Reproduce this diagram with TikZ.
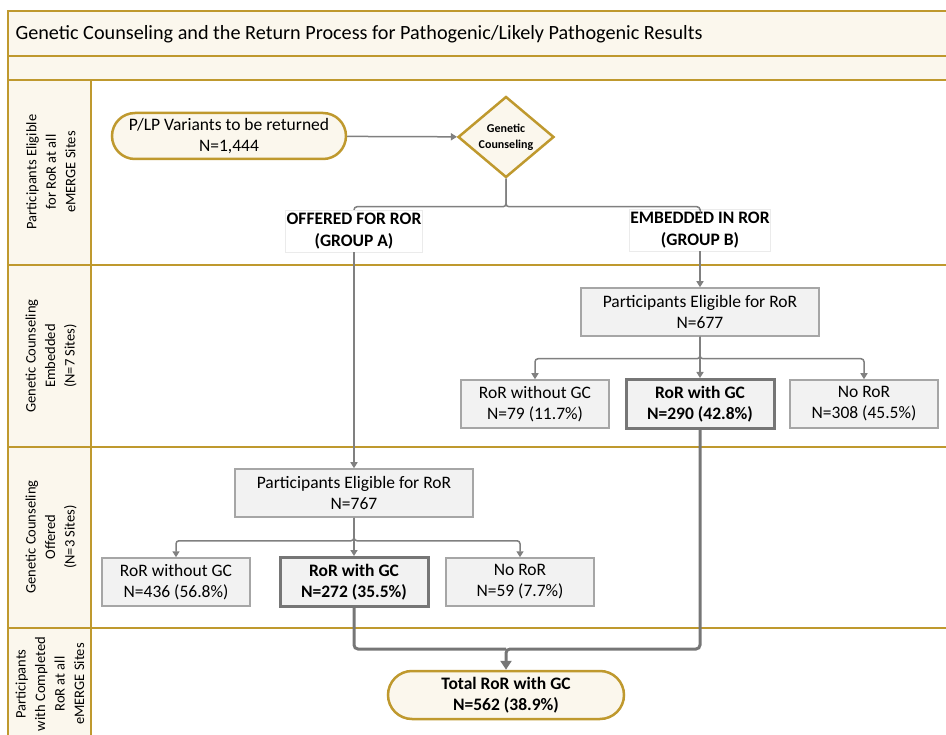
\documentclass[tikz,border=0pt]{standalone}
\usepackage{fontspec}
\setmainfont{Carlito}
\usetikzlibrary{shapes.geometric,shapes.misc,arrows.meta}
\definecolor{gold}{RGB}{191,153,46}
\definecolor{cream}{RGB}{251,247,237}
\definecolor{boxfill}{RGB}{242,242,242}
\definecolor{boxline}{RGB}{166,166,166}
\definecolor{darkline}{RGB}{118,118,118}
\definecolor{arrowgray}{RGB}{128,128,128}
\begin{document}
\begin{tikzpicture}[x=1pt, y=-1pt,
  lane/.style={draw=gold, line width=1.5pt},
  lanetext/.style={rotate=90, align=center, font=\fontsize{14.5}{19.5}\selectfont},
  terminal/.style={rounded rectangle, draw=gold, fill=cream, line width=2.5pt, align=center, inner sep=1pt, font=\fontsize{17.5}{21}\selectfont},
  decision/.style={diamond, draw=gold, fill=cream, line width=2.5pt, minimum width=96pt, minimum height=71pt, inner sep=0pt, align=center, font=\bfseries\fontsize{12}{16}\selectfont},
  group/.style={draw=black!8, fill=white, align=center, inner sep=1pt, font=\bfseries\fontsize{17.5}{22}\selectfont, minimum width=136pt, minimum height=42pt},
  result/.style={draw=boxline, fill=boxfill, line width=1.5pt, align=center, inner sep=1pt, font=\fontsize{17.5}{21}\selectfont, minimum width=148pt, minimum height=48pt},
  chosen/.style={result, draw=darkline, line width=3pt, font=\bfseries\fontsize{17.5}{21}\selectfont, minimum width=148pt, minimum height=49pt},
  link/.style={draw=arrowgray, line width=1.5pt, rounded corners=3pt},
  tip/.style={-{Triangle[width=7pt,length=6pt]}},
  merge/.style={draw=darkline, line width=3pt, rounded corners=4pt}]
  \useasboundingbox (0,0) rectangle (946,735);
  \fill[cream] (8,11) rectangle (960,80);
  \fill[cream] (8,80) rectangle (91,760);
  \draw[lane] (960,11) -- (8,11) -- (8,760);
  \draw[lane] (91,80) -- (91,760);
  \foreach \y in {56,80,265,447,628}
    \draw[lane] (8,\y) -- (960,\y);
  \node[anchor=west, font=\fontsize{20.2}{24}\selectfont] (title) at (12,34) {Genetic Counseling and the Return Process for Pathogenic/Likely Pathogenic Results};
  \node[lanetext] (lane1) at (51,172) {Participants Eligible\\for RoR at all\\eMERGE Sites};
  \node[lanetext] (lane2) at (51,356) {Genetic Counseling\\Embedded\\(N=7 Sites)};
  \node[lanetext] (lane3) at (51,537) {Genetic Counseling\\Offered\\(N=3 Sites)};
  \node[lanetext] (lane4) at (50,684) {Participants\\with Completed\\RoR at all\\eMERGE Sites};

  \node[terminal, minimum width=236pt, minimum height=46pt] (plp) at (229,136) {P/LP Variants to be returned\\N=1,444};
  \node[decision] (gc) at (506,137) {Genetic\\Counseling};
  \node[group] (grpA) at (354,231) {OFFERED FOR ROR\\(GROUP A)};
  \node[group] (grpB) at (700,230) {EMBEDDED IN ROR\\(GROUP B)};

  \node[result, minimum width=238pt] (elB) at (700,312) {Participants Eligible for RoR\\N=677};
  \node[result] (noGCB) at (535,404) {RoR without GC\\N=79 (11.7\%)};
  \node[chosen] (GCB) at (700,404) {RoR with GC\\N=290 (42.8\%)};
  \node[result] (noRoRB) at (864,404) {No RoR\\N=308 (45.5\%)};

  \node[result, minimum width=238pt] (elA) at (354,493) {Participants Eligible for RoR\\N=767};
  \node[result] (noGCA) at (176,582) {RoR without GC\\N=436 (56.8\%)};
  \node[chosen] (GCA) at (354,582) {RoR with GC\\N=272 (35.5\%)};
  \node[result] (noRoRA) at (520,582) {No RoR\\N=59 (7.7\%)};

  \node[terminal, font=\bfseries\fontsize{17.5}{21}\selectfont, minimum width=238pt, minimum height=48pt] (total) at (506,695) {Total RoR with GC\\N=562 (38.9\%)};
  \coordinate (join) at (506,649);

  \draw[link, tip] (plp) -- (gc);
  \draw[link] (gc.south) -- ++(0,28) -| (grpA.north);
  \draw[link] (gc.south) -- ++(0,28) -| (grpB.north);
  \draw[link, tip] (grpA.south) -- (elA.north);
  \draw[link, tip] (grpB.south) -- (elB.north);
  \draw[link, tip] (elB.south) -- ++(0,22) -| (noGCB.north);
  \draw[link, tip] (elB.south) -- (GCB.north);
  \draw[link, tip] (elB.south) -- ++(0,22) -| (noRoRB.north);
  \draw[link, tip] (elA.south) -- ++(0,23) -| (noGCA.north);
  \draw[link, tip] (elA.south) -- (GCA.north);
  \draw[link, tip] (elA.south) -- ++(0,23) -| (noRoRA.north);
  \draw[merge] (GCA.south) |- (join);
  \draw[merge, -{Triangle[width=11pt,length=9pt]}] (GCB.south) |- (join) -- (total.north);
\end{tikzpicture}
\end{document}
